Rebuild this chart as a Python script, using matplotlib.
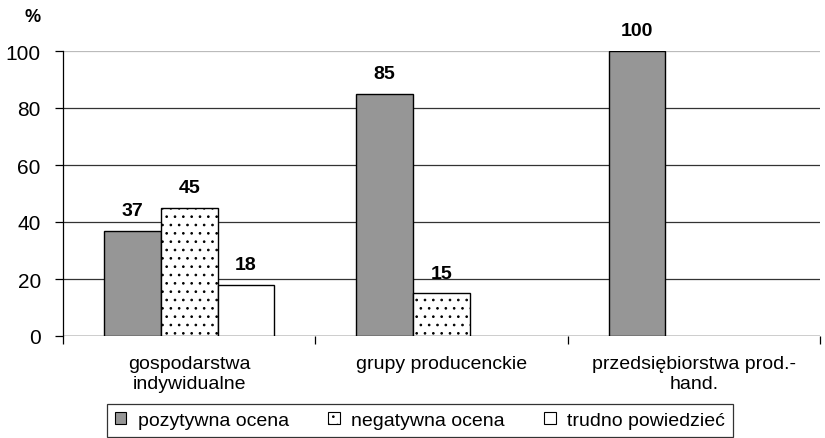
import matplotlib
matplotlib.use("Agg")
import matplotlib.pyplot as plt
import numpy as np
from matplotlib.patches import Rectangle

plt.rcParams['font.family'] = ['Liberation Sans', 'DejaVu Sans']
plt.rcParams['hatch.color'] = '#666666'
plt.rcParams['hatch.linewidth'] = 0.7

categories = ["gospodarstwa\nindywidualne", "grupy producenckie", "przedsiębiorstwa prod.-\nhand."]
series_names = ["pozytywna ocena", "negatywna ocena", "trudno powiedzieć"]
pozytywna = [37, 85, 100]
negatywna = [45, 15, None]
trudno = [18, None, None]
yticks = [0, 20, 40, 60, 80, 100]

fig = plt.figure(figsize=(8.25, 4.39), dpi=100)
ax = fig.add_axes([63/825, 1-337/439, 757/825, 285/439])

x = np.arange(len(categories))
w = 0.225
styles = [dict(facecolor='#969696', hatch=None),
          dict(facecolor='white', hatch='..'),
          dict(facecolor='white', hatch=None)]
handles = []
for i, (vals, st) in enumerate(zip([pozytywna, negatywna, trudno], styles)):
    for j, v in enumerate(vals):
        if v is None:
            continue
        xc = x[j] + (i - 1) * w
        ax.bar(xc, v, width=w, facecolor=st['facecolor'], hatch=st['hatch'],
               edgecolor='black', linewidth=1.0, zorder=3)
        ax.text(xc, v + 5.5, str(v), ha='center', va='baseline', fontsize=14,
                fontweight='bold', zorder=4)
    handles.append(Rectangle((0, 0), 1, 1, facecolor=st['facecolor'], hatch=st['hatch'],
                             edgecolor='black', linewidth=0.8))

ax.set_xlim(-0.5, 2.5)
ax.set_ylim(0, 100)
ax.set_yticks(yticks)
ax.set_yticklabels([str(t) for t in yticks], fontsize=15)
ax.yaxis.grid(True, color='#333333', linewidth=0.9, zorder=0)
ax.get_ygridlines()[-1].set_color('#bbbbbb')
ax.set_axisbelow(True)
for s in ['top', 'right', 'bottom']:
    ax.spines[s].set_visible(False)
ax.spines['left'].set_linewidth(0.9)
ax.axhline(0, color='#333333', linewidth=0.9, zorder=2)
ax.tick_params(axis='y', direction='out', length=6, width=0.9, pad=10)

ax.set_xticks([-0.5, 0.5, 1.5, 2.5])
ax.set_xticklabels([])
ax.set_xticks(x, minor=True)
ax.set_xticklabels(categories, minor=True, fontsize=14)
ax.tick_params(axis='x', which='major', direction='out', length=6, width=0.9)
ax.tick_params(axis='x', which='minor', length=0, pad=14)

fig.text(33/825, 1-18/439, "%", fontsize=13, fontweight='bold', ha='center', va='center')

leg = fig.legend(handles, series_names, loc='upper center',
                 bbox_to_anchor=(420/825, 1-405/439),
                 ncol=3, fontsize=14, frameon=True, fancybox=False, edgecolor='black',
                 handlelength=0.6, handleheight=0.6, handletextpad=0.6, columnspacing=2.0,
                 borderpad=0.4, borderaxespad=0)
leg.get_frame().set_linewidth(0.9)

fig.savefig("out.png", dpi=100)
